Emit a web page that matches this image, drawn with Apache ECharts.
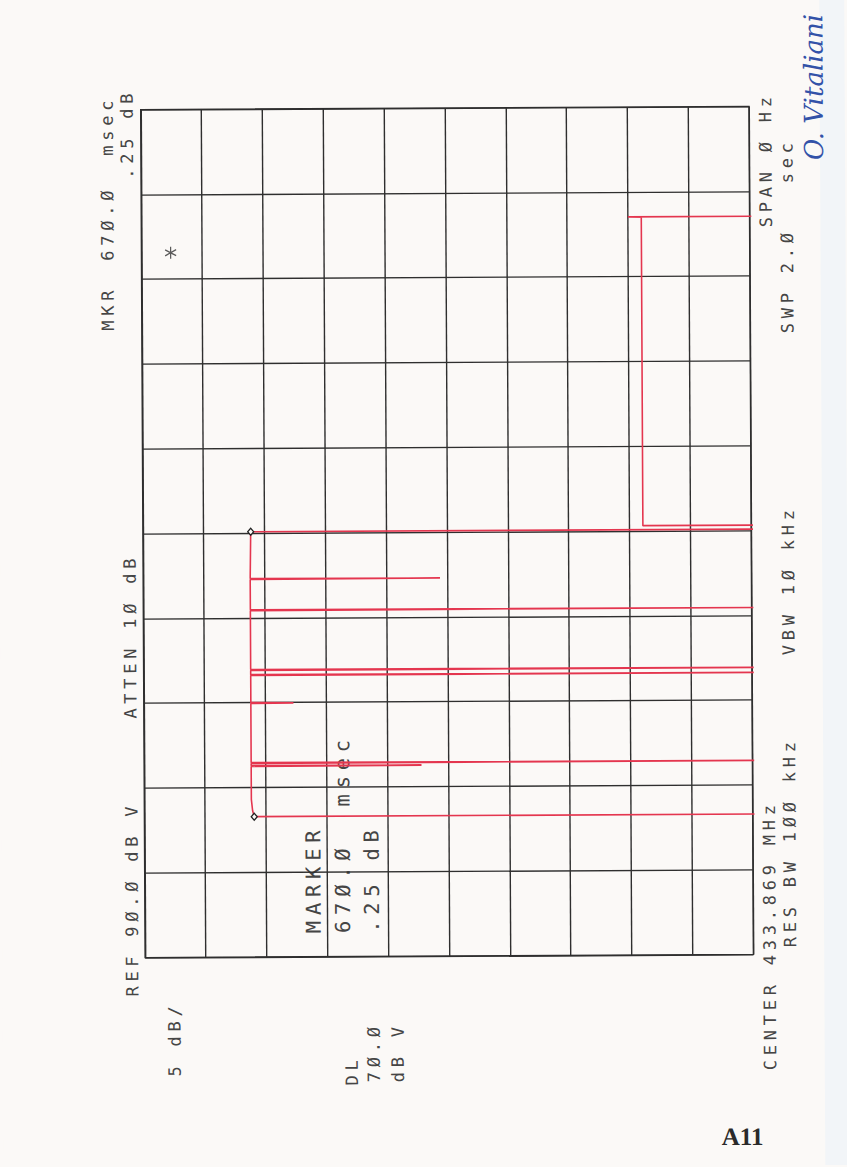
<!DOCTYPE html>
<html><head><meta charset="utf-8">
<script src="https://cdn.jsdelivr.net/npm/echarts@6/dist/echarts.min.js"></script>
<style>
html,body{margin:0;padding:0;background:#fbf9f7;overflow:hidden;}
#c{width:847px;height:1167px;transform:rotate(-0.3deg);transform-origin:446px 533px;}
#c text[style*="DejaVu Sans Mono"]{letter-spacing:0.28em;}
</style></head><body><div id="c"></div>
<script>
// Level axis (dB, 5 dB/div from REF 90 dB down) and time axis (zero span, 2.0 s sweep)
const levelTicks = [40, 45, 50, 55, 60, 65, 70, 75, 80, 85, 90];
const timeTicksMs = [0, 200, 400, 600, 800, 1000, 1200, 1400, 1600, 1800, 2000];

// Trace: time (ms) and level (dB). 38 dB = below the screen (noise floor)
const traceTimeMs  = [0, 331, 331, 345, 372, 449.5, 450.5, 451.5, 456.5, 457.5, 458.5, 598, 599, 600, 664, 665, 666, 676, 677, 678, 817, 818, 819, 890.5, 891.5, 892.5, 1003, 1003, 1012.5, 1012.5, 1740, 1741, 1741, 2000];
const traceLevelDb = [38, 38, 80.97, 81.1, 81.2, 81.2, 67.2, 81.2, 81.2, 38, 81.2, 81.2, 77.7, 81.2, 81.2, 38, 81.2, 81.2, 38, 81.2, 81.2, 38, 81.2, 81.2, 65.6, 81.2, 81.14, 38, 38, 48.9, 48.9, 50.0, 38, 38];

// Markers (diamonds) and the on-screen asterisk
const markerTimeMs = [331, 1003];
const markerLevelDb = [80.97, 81.14];
const starTimeMs = [1662];
const starLevelDb = [87.6];

// Annotation texts
const annotations = [
  ['MKR', 'a'], ['67Ø.Ø  msec', 'b'], ['.25 dB', 'c'], ['REF 9Ø.Ø dB V', 'd'], ['ATTEN 1Ø dB', 'e'],
  ['5 dB/', 'f'], ['DL', 'g'], ['7Ø.Ø', 'h'], ['dB V', 'i'],
  ['MARKER', 'j'], ['67Ø.Ø  msec', 'k'], ['.25 dB', 'l'],
  ['CENTER 433.869 MHz', 'm'], ['RES BW 1ØØ kHz', 'n'], ['VBW 1Ø kHz', 'o'], ['SWP 2.Ø   sec', 'p'], ['SPAN Ø Hz', 'q']
];
</script>
<script>
const place = {
  a:[109,329,17], b:[109,259,17], c:[129,177,17], d:[130,995,17], e:[129.5,717,17],
  f:[172,1075,17], g:[349,1085,17], h:[371,1082,17], i:[395,1082,17],
  j:[311.7,932.5,20.5], k:[341,932.5,20.5], l:[370,932.5,20.5],
  m:[767.5,1072,17], n:[788,949,17], o:[788,657,17], p:[788.5,335,17], q:[767.5,229,17]
};
const TEXT = '#454545', GRIDC = '#2f2f2f', RED = '#e4364f';
const chart = echarts.init(document.getElementById('c'), null, {renderer:'svg', width:847, height:1167});
const graphics = [
  {type:'rect', left:822, top:-20, shape:{width:40, height:1210}, style:{fill:'#f2f5f8'}, z:-10}
];
annotations.forEach(([t,k]) => {
  const p = place[k];
  graphics.push({type:'text', x:p[0], y:p[1], rotation:Math.PI/2,
    style:{text:t, font:p[2]+'px "DejaVu Sans Mono"', fill:TEXT, align:'left', verticalAlign:'middle', textAlign:'left', textVerticalAlign:'middle'}});
});
graphics.push({type:'text', x:718.5, y:1138, style:{text:'A11', font:'bold 25px "Liberation Serif"', fill:'#2a2a2a', align:'left', verticalAlign:'middle', textAlign:'left', textVerticalAlign:'middle'}});
graphics.push({type:'text', x:816, y:162, rotation:Math.PI/2, style:{text:'O. Vitaliani', font:'italic 26px "DejaVu Serif"', fill:'#3352a8', align:'left', verticalAlign:'middle', textAlign:'left', textVerticalAlign:'middle'}});

const axisCommon = {axisLine:{show:false}, axisTick:{show:false}, axisLabel:{show:false},
  splitLine:{show:true, showMinLine:true, showMaxLine:true, lineStyle:{color:GRIDC, width:1.4}}};
chart.setOption({
  backgroundColor:'#fbf9f7',
  animation:false,
  grid:{left:142.9, right:95.8, top:108, bottom:211, show:true, borderColor:GRIDC, borderWidth:1.4},
  xAxis:Object.assign({type:'value', min:levelTicks[0], max:levelTicks[levelTicks.length-1], interval:levelTicks[1]-levelTicks[0], inverse:true}, axisCommon),
  yAxis:Object.assign({type:'value', min:timeTicksMs[0], max:timeTicksMs[timeTicksMs.length-1], interval:timeTicksMs[1]-timeTicksMs[0]}, axisCommon),
  series:[
    {type:'line', data:traceTimeMs.map((t,i)=>[traceLevelDb[i], t]), symbol:'none', clip:true,
     lineStyle:{color:RED, width:1.6}, z:3},
    {type:'scatter', data:markerTimeMs.map((t,i)=>[markerLevelDb[i], t]), symbol:'diamond', symbolSize:[6,7],
     itemStyle:{color:'#fbf9f7', borderColor:'#222', borderWidth:1.3, opacity:1}, z:5},
    {type:'scatter', data:starTimeMs.map((t,i)=>[starLevelDb[i], t]),
     symbol:'path://M0,-6L0,6M-5.2,-3L5.2,3M-5.2,3L5.2,-3', symbolSize:[11,12],
     itemStyle:{color:'none', borderColor:'#333', borderWidth:1.3}, z:5}
  ],
  graphic:graphics
});
</script></body></html>
